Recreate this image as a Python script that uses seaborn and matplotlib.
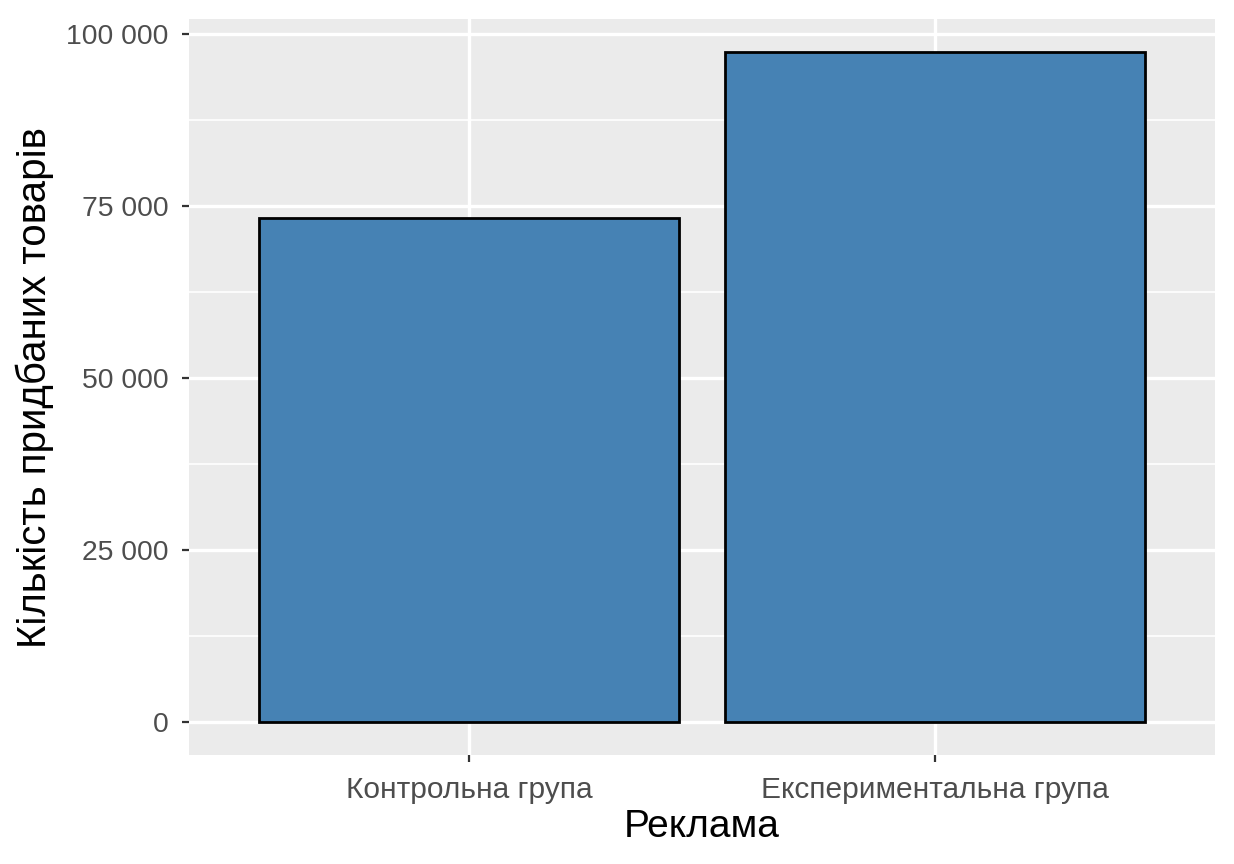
import matplotlib
matplotlib.use("Agg")
import matplotlib.pyplot as plt
import seaborn as sns
from matplotlib.ticker import FuncFormatter, FixedLocator

groups = ["Контрольна група", "Експериментальна група"]
purchases = [73300, 97350]
y_ticks = [0, 25000, 50000, 75000, 100000]
y_minor = [12500, 37500, 62500, 87500]
x_title = "Реклама"
y_title = "Кількість придбаних товарів"

sns.set_theme(style="darkgrid")
plt.rcParams["font.family"] = ["Liberation Sans", "DejaVu Sans"]

fig, ax = plt.subplots(figsize=(12.34, 8.64), dpi=100)
fig.subplots_adjust(left=189/1234, right=1215/1234, top=1-19/864, bottom=1-755/864)

ax.set_facecolor("#EBEBEB")
sns.barplot(x=groups, y=purchases, color="#4682B4", saturation=1,
            edgecolor="black", linewidth=2, width=0.9, ax=ax, zorder=3)

ymax = max(purchases)
ax.set_xlim(-0.6, 1.6)
ax.set_ylim(-0.05*ymax, 1.05*ymax)
ax.yaxis.set_major_locator(FixedLocator(y_ticks))
ax.yaxis.set_minor_locator(FixedLocator(y_minor))
ax.yaxis.set_major_formatter(FuncFormatter(lambda v, p: f"{v:,.0f}".replace(",", " ")))

ax.grid(False)
ax.grid(which="major", axis="both", color="white", linewidth=2.4, zorder=0)
ax.grid(which="minor", axis="y", color="white", linewidth=1.2, zorder=0)
ax.set_axisbelow(True)
for s in ax.spines.values():
    s.set_visible(False)

ax.tick_params(axis="both", which="major", length=5, width=1.6, color="#333333",
               labelcolor="#4D4D4D", bottom=True, left=True)
ax.tick_params(axis="x", which="major", labelsize=21.5, pad=10)
ax.tick_params(axis="y", which="major", labelsize=20.4, pad=9.5)
ax.tick_params(axis="y", which="minor", length=0)

ax.set_xlabel(x_title, fontsize=28, color="black", labelpad=4)
ax.set_ylabel(y_title, fontsize=29, color="black", labelpad=9)

fig.savefig("out.png", dpi=100, facecolor="white")
